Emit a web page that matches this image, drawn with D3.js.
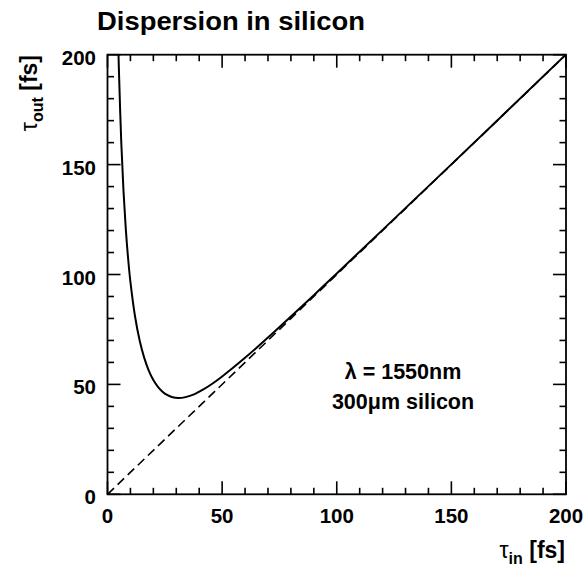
<!DOCTYPE html>
<html>
<head>
<meta charset="utf-8">
<script src="https://cdn.jsdelivr.net/npm/d3@7"></script>
<style>
  body { margin: 0; background: #fff; }
  svg text { font-family: "Liberation Sans", Arial, Helvetica, sans-serif; font-weight: bold; fill: #000; }
</style>
</head>
<body>
<svg id="chart" width="583" height="567"></svg>
<script>
// Output pulse width after 300 µm of silicon at 1550 nm, versus input pulse width (fs)
const tauIn  = [4.8, 5, 6, 7, 8, 9, 10, 12, 14, 16, 18, 20, 22, 24, 26, 28, 31, 34, 38, 42, 46, 50, 60, 70, 80, 90, 100, 120, 150, 200];
const tauOut = [200, 192.3, 160.3, 137.5, 120.4, 107.2, 96.6, 81.0, 70.1, 62.2, 56.3, 52.0, 48.9, 46.7, 45.2, 44.3, 43.8, 44.2, 45.6, 47.8, 50.5, 53.6, 62.1, 71.3, 80.9, 90.6, 100.5, 120.3, 150.1, 200.1];
// Reference line: no broadening (tau_out = tau_in)
const refLine = [0, 200];

const xTicks = [0, 50, 100, 150, 200];
const yTicks = [0, 50, 100, 150, 200];
const annotation = ["λ = 1550nm", "300μm silicon"];

const svg = d3.select("#chart");
const L = 107.5, R = 566, T = 54.7, B = 494.3;

const x = d3.scaleLinear().domain([0, 200]).range([L, R]);
const y = d3.scaleLinear().domain([0, 200]).range([B, T]);

const minor = d3.range(0, 201, 10);

// frame
svg.append("rect")
  .attr("x", L).attr("y", T).attr("width", R - L).attr("height", B - T)
  .attr("fill", "none").attr("stroke", "#000").attr("stroke-width", 1.8);

const tickG = svg.append("g").attr("stroke", "#000").attr("stroke-width", 1.6);
minor.forEach(v => {
  const len = v % 50 === 0 ? 13 : 6.5;
  // bottom & top
  tickG.append("line").attr("x1", x(v)).attr("x2", x(v)).attr("y1", B).attr("y2", B - len);
  tickG.append("line").attr("x1", x(v)).attr("x2", x(v)).attr("y1", T).attr("y2", T + len);
  // left & right
  tickG.append("line").attr("y1", y(v)).attr("y2", y(v)).attr("x1", L).attr("x2", L + len);
  tickG.append("line").attr("y1", y(v)).attr("y2", y(v)).attr("x1", R).attr("x2", R - len);
});

// tick labels
svg.append("g").selectAll("text").data(xTicks).join("text")
  .attr("x", d => x(d)).attr("y", 523)
  .attr("text-anchor", "middle").attr("font-size", 20.5)
  .text(d => d);
svg.append("g").selectAll("text").data(yTicks).join("text")
  .attr("x", 96).attr("y", d => y(d) + 10)
  .attr("text-anchor", "end").attr("font-size", 20.5)
  .text(d => d);

// clip
svg.append("clipPath").attr("id", "plot")
  .append("rect").attr("x", L).attr("y", T).attr("width", R - L).attr("height", B - T);

// dashed reference line
svg.append("line")
  .attr("x1", x(refLine[0])).attr("y1", y(refLine[0]))
  .attr("x2", x(refLine[1])).attr("y2", y(refLine[1]))
  .attr("stroke", "#000").attr("stroke-width", 1.6)
  .attr("stroke-dasharray", "9,5");

// broadened pulse curve
const pts = tauIn.map((t, i) => [t, tauOut[i]]);
svg.append("path")
  .attr("clip-path", "url(#plot)")
  .attr("d", d3.line().x(d => x(d[0])).y(d => y(d[1])).curve(d3.curveCatmullRom)(pts))
  .attr("fill", "none").attr("stroke", "#000").attr("stroke-width", 2);

// title
svg.append("text").attr("x", 97).attr("y", 30).attr("font-size", 25)
  .attr("textLength", 268).attr("lengthAdjust", "spacingAndGlyphs")
  .text("Dispersion in silicon");

// axis titles
const yt = svg.append("text")
  .attr("transform", "translate(37,55) rotate(-90)")
  .attr("text-anchor", "end").attr("font-size", 23);
yt.append("tspan").attr("font-weight", "normal").text("τ");
yt.append("tspan").attr("font-size", 16).attr("dy", 6).text("out");
yt.append("tspan").attr("dy", -6).text(" [fs]");

const xt = svg.append("text")
  .attr("x", 565).attr("y", 558)
  .attr("text-anchor", "end").attr("font-size", 23);
xt.append("tspan").attr("font-weight", "normal").text("τ");
xt.append("tspan").attr("font-size", 16).attr("dy", 6).text("in");
xt.append("tspan").attr("dy", -6).text(" [fs]");

// annotation
svg.append("g").selectAll("text").data(annotation).join("text")
  .attr("x", 403).attr("y", (d, i) => 379 + i * 30)
  .attr("text-anchor", "middle").attr("font-size", 21.5)
  .text(d => d);
</script>
</body>
</html>
